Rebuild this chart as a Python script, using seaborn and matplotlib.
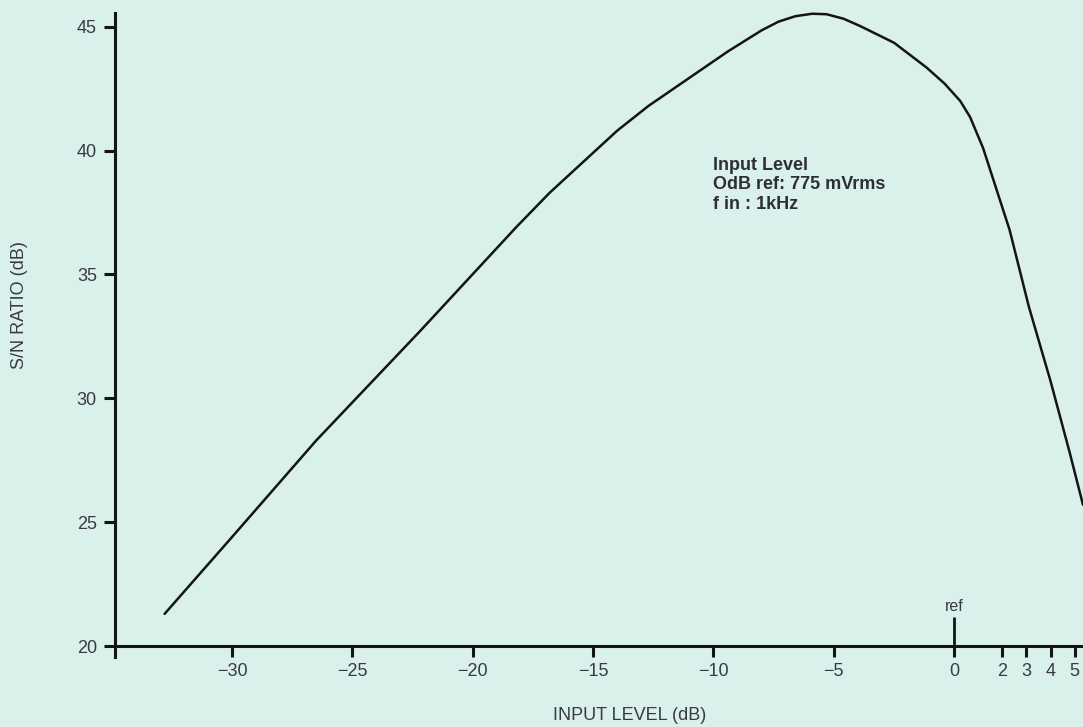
import pandas as pd
import seaborn as sns
import matplotlib.pyplot as plt

# S/N ratio vs input level
input_level = [-32.8, -30.0, -26.5, -22.2, -18.2, -16.8, -14.0, -12.7, -11.2, -9.4,
               -8.0, -7.3, -6.6, -5.9, -5.3, -4.6, -3.9, -2.5, -1.15, -0.4,
               0.25, 0.66, 1.2, 1.6, 2.3, 3.1, 4.0, 4.8, 5.35]
sn_ratio = [21.3, 24.4, 28.3, 32.7, 36.9, 38.3, 40.8, 41.8, 42.8, 44.0,
            44.85, 45.2, 45.42, 45.52, 45.5, 45.32, 45.02, 44.35, 43.35, 42.7,
            42.0, 41.35, 40.1, 38.9, 36.8, 33.7, 30.7, 27.8, 25.7]

x_ticks = [-30, -25, -20, -15, -10, -5, 0, 2, 3, 4, 5]
x_tick_labels = ["\u221230", "\u221225", "\u221220", "\u221215", "\u221210", "\u22125",
                 "0", "2", "3", "4", "5"]
y_ticks = [20, 25, 30, 35, 40, 45]
note = "Input Level\nOdB ref: 775 mVrms\nf in : 1kHz"

sns.set_style("ticks")
plt.rcParams['font.family'] = ['Liberation Sans', 'DejaVu Sans']

bg = "#daf1eb"
ink = "#141414"
label_col = "#3a3a42"

fig = plt.figure(figsize=(10.83, 7.27), dpi=100, facecolor=bg)
ax = fig.add_axes([115 / 1083, 70 / 727, 968 / 1083, 644 / 727])
ax.set_facecolor(bg)

df = pd.DataFrame({"level": input_level, "sn": sn_ratio})
sns.lineplot(data=df, x="level", y="sn", ax=ax, color=ink, linewidth=1.8, sort=False)

ax.set_xlim(-34.86, 5.35)
ax.set_ylim(19.56, 45.55)

# axes look
for side in ["top", "right"]:
    ax.spines[side].set_visible(False)
ax.spines["bottom"].set_position(("data", 20))
for side in ["left", "bottom"]:
    ax.spines[side].set_linewidth(2.2)
    ax.spines[side].set_color(ink)

ax.set_xticks(x_ticks)
ax.set_xticklabels(x_tick_labels)
ax.set_yticks(y_ticks)
ax.tick_params(axis="both", direction="out", length=8, width=2.2, color=ink,
               labelsize=13, labelcolor=label_col)
ax.tick_params(axis="x", pad=4)
ax.tick_params(axis="y", pad=5)

ax.set_xlabel("INPUT LEVEL (dB)", fontsize=13, color=label_col)
ax.set_ylabel("S/N RATIO (dB)", fontsize=13, color=label_col)
ax.xaxis.set_label_coords(0.532, -0.078)
ax.yaxis.set_label_coords(-0.09, 0.547)

# 0 dB reference mark
ax.vlines(0, 20, 21.17, color=ink, linewidth=2.0)
ax.text(0, 21.3, "ref", ha="center", va="bottom", fontsize=11.5, color=label_col)

ax.text(-10.0, 39.75, note, ha="left", va="top", fontsize=13, fontweight="bold",
        color="#2e2e36", linespacing=1.2)

for line in ax.lines:
    line.set_clip_on(False)

fig.savefig("out.png", dpi=100, facecolor=bg)
